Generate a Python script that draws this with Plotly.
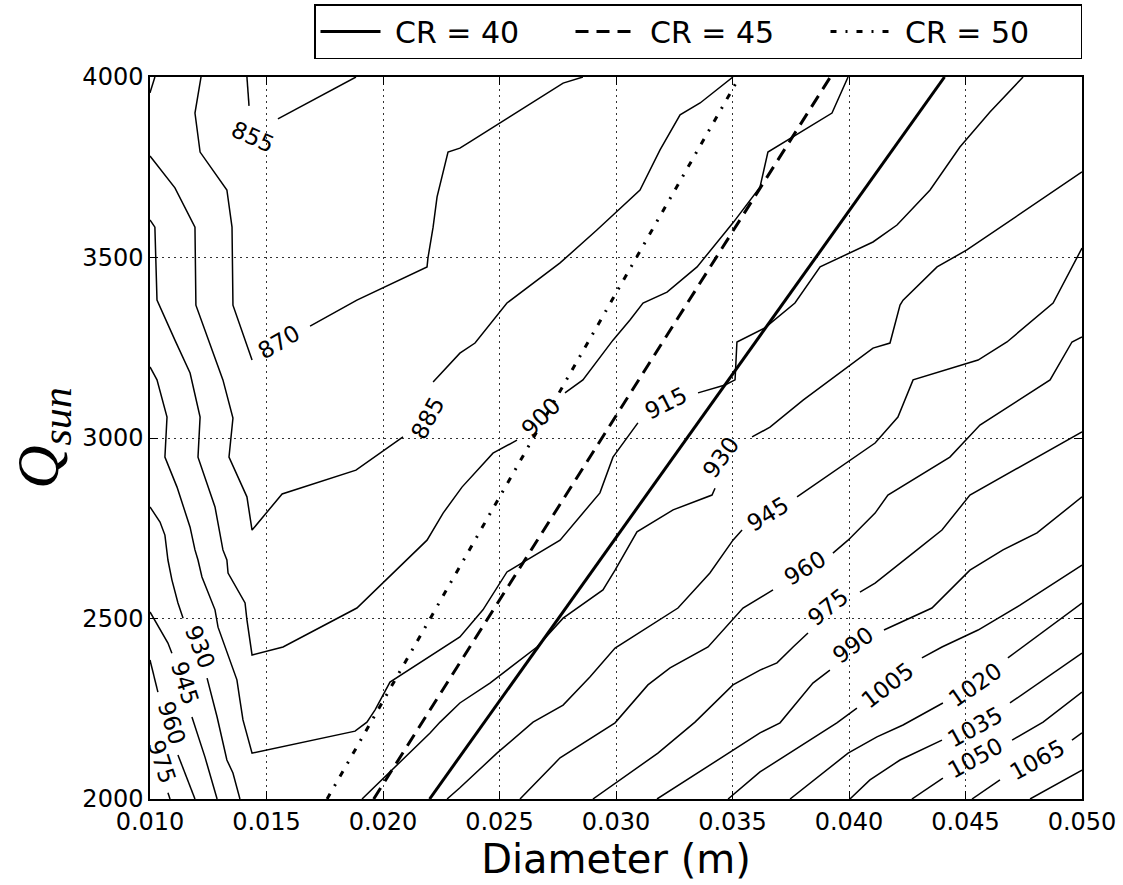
import math
import plotly.graph_objects as go

# ---------------- axes ----------------
X_RANGE = [0.010, 0.050]
Y_RANGE = [2000, 4000]
X_TICKS = [0.010, 0.015, 0.020, 0.025, 0.030, 0.035, 0.040, 0.045, 0.050]
Y_TICKS = [2000, 2500, 3000, 3500, 4000]

# ---------------- CR lines (diameter read at Q = 2000 and Q = 4000) ----------------
CR_VALUES = [40, 45, 50]
CR_Q_ENDS = [2000, 4000]
CR_D_AT_Q_LOW = [0.0220, 0.0196, 0.0176]
CR_D_AT_Q_HIGH = [0.0441, 0.0392, 0.0353]

# ---------------- contour lines (D [m], Qsun) ----------------
# each contour = list of pieces; labelled gaps lie between consecutive pieces
C855 = [
    [(0.01416, 4000), (0.01425, 3920)],
    [(0.01549, 3884), (0.01884, 4000)],
]
C870 = [
    [(0.01219, 4000), (0.01193, 3900), (0.01215, 3792), (0.01330, 3687), (0.01352, 3584),
     (0.01356, 3368), (0.01438, 3216)],
    [(0.01687, 3310), (0.01888, 3382), (0.02189, 3474), (0.02193, 3499), (0.02215, 3584),
     (0.02232, 3668), (0.02279, 3792), (0.02330, 3803), (0.02373, 3820), (0.02773, 3983),
     (0.02858, 4000)],
]
C885 = [
    [(0.01000, 3956), (0.01021, 4000)],
    [(0.01000, 3781), (0.01107, 3693), (0.01193, 3584), (0.01197, 3368), (0.01313, 3161),
     (0.01356, 3055), (0.01339, 2947), (0.01416, 2837), (0.01438, 2745), (0.01567, 2845),
     (0.01884, 2911), (0.02086, 3003)],
    [(0.02215, 3155), (0.02330, 3235), (0.02395, 3263), (0.02472, 3327), (0.02532, 3374),
     (0.02760, 3485), (0.02918, 3576), (0.03103, 3687), (0.03189, 3798), (0.03275, 3895),
     (0.03361, 3928), (0.03502, 4000)],
]
C900 = [
    [(0.01000, 3604), (0.01021, 3584), (0.01030, 3382), (0.01043, 3363), (0.01107, 3271),
     (0.01172, 3180), (0.01215, 3058), (0.01206, 2947), (0.01279, 2809), (0.01313, 2690),
     (0.01330, 2662), (0.01335, 2626), (0.01408, 2543), (0.01416, 2496), (0.01438, 2399),
     (0.01571, 2421), (0.01888, 2529), (0.02189, 2717), (0.02258, 2792), (0.02339, 2864),
     (0.02472, 2958), (0.02575, 2994)],
    [(0.02781, 3125), (0.02858, 3161), (0.02987, 3271), (0.03060, 3327), (0.03116, 3374),
     (0.03219, 3404), (0.03348, 3474), (0.03502, 3596), (0.03618, 3695), (0.03652, 3792),
     (0.03927, 3900), (0.03996, 4000)],
]
C915 = [
    [(0.01000, 3197), (0.01030, 3161), (0.01073, 3058), (0.01064, 2947), (0.01116, 2864),
     (0.01172, 2753), (0.01193, 2690), (0.01206, 2662), (0.01223, 2615), (0.01279, 2524),
     (0.01292, 2476), (0.01356, 2357), (0.01373, 2330), (0.01386, 2274), (0.01399, 2219),
     (0.01438, 2127), (0.01880, 2188), (0.01931, 2213), (0.01966, 2247), (0.02030, 2324),
     (0.02245, 2413), (0.02330, 2449), (0.02429, 2524), (0.02532, 2629), (0.02597, 2654),
     (0.02760, 2717), (0.02931, 2848), (0.02987, 2947), (0.03094, 3042)],
    [(0.03352, 3125), (0.03468, 3147), (0.03511, 3161), (0.03519, 3266), (0.03639, 3305),
     (0.03768, 3374), (0.03876, 3474), (0.04103, 3543), (0.04206, 3590), (0.04348, 3687),
     (0.04476, 3806), (0.04605, 3903), (0.04747, 4000)],
]
C930 = [
    [(0.01000, 2809), (0.01043, 2767), (0.01064, 2731), (0.01077, 2662), (0.01094, 2607),
     (0.01120, 2543), (0.01142, 2501)],
    [(0.01245, 2335), (0.01288, 2227), (0.01330, 2108), (0.01356, 2072), (0.01386, 2000)],
    [(0.01910, 2000), (0.02202, 2183), (0.02245, 2213), (0.02330, 2266), (0.02459, 2321),
     (0.02661, 2421), (0.02773, 2501), (0.02944, 2579), (0.02996, 2634), (0.03047, 2690),
     (0.03090, 2740), (0.03245, 2801), (0.03412, 2842), (0.03425, 2861)],
    [(0.03584, 3003), (0.03661, 3030), (0.03803, 3105), (0.04103, 3249), (0.04176, 3263),
     (0.04219, 3368), (0.04232, 3382), (0.04378, 3474), (0.04506, 3521), (0.05000, 3737)],
]
C945 = [
    [(0.01000, 2518), (0.01039, 2476), (0.01077, 2432), (0.01094, 2404)],
    [(0.01180, 2227), (0.01236, 2116), (0.01288, 2000)],
    [(0.02275, 2000), (0.02330, 2031), (0.02489, 2127), (0.02644, 2213), (0.02773, 2260),
     (0.02888, 2338), (0.02996, 2418), (0.03266, 2529), (0.03403, 2626), (0.03502, 2717),
     (0.03541, 2745)],
    [(0.03777, 2837), (0.04112, 2986), (0.04210, 3058), (0.04275, 3161), (0.04554, 3216),
     (0.04678, 3266), (0.04876, 3374), (0.05000, 3526)],
]
C960 = [
    [(0.01000, 2385), (0.01021, 2330), (0.01034, 2296)],
    [(0.01120, 2122), (0.01163, 2053), (0.01193, 2000)],
    [(0.02588, 2000), (0.02760, 2114), (0.02996, 2211), (0.03137, 2316), (0.03232, 2363),
     (0.03395, 2421), (0.03545, 2529), (0.03618, 2557), (0.03674, 2579)],
    [(0.03931, 2681), (0.03996, 2717), (0.04112, 2792), (0.04167, 2842), (0.04433, 2947),
     (0.04562, 3036), (0.04863, 3161), (0.04957, 3266), (0.05000, 3280)],
]
C975 = [
    [(0.01000, 2169)],
    [(0.01077, 2017), (0.01086, 2000)],
    [(0.02901, 2000), (0.03180, 2127), (0.03339, 2213), (0.03502, 2316), (0.03618, 2357),
     (0.03691, 2377), (0.03760, 2421), (0.03824, 2460)],
    [(0.04047, 2573), (0.04112, 2598), (0.04292, 2690), (0.04399, 2745), (0.04519, 2842),
     (0.05000, 3017)],
]
C990 = [
    [(0.03176, 2000), (0.03502, 2136), (0.03618, 2183), (0.03704, 2211), (0.03845, 2321),
     (0.03918, 2357)],
    [(0.04150, 2468), (0.04356, 2529), (0.04519, 2634), (0.04571, 2654), (0.04661, 2690),
     (0.04807, 2737), (0.05000, 2837)],
]
C1005 = [
    [(0.03481, 2000), (0.03618, 2075), (0.03948, 2211), (0.04034, 2252)],
    [(0.04313, 2391), (0.04399, 2421), (0.04554, 2468), (0.04734, 2537), (0.05000, 2648)],
]
C1020 = [
    [(0.03747, 2000), (0.03996, 2127), (0.04120, 2172), (0.04232, 2205), (0.04403, 2266)],
    [(0.04682, 2391), (0.05000, 2543)],
]
C1035 = [
    [(0.04004, 2000), (0.04090, 2053), (0.04219, 2108), (0.04399, 2163)],
    [(0.04691, 2266), (0.05000, 2404)],
]
C1050 = [
    [(0.04270, 2000), (0.04403, 2058)],
    [(0.04700, 2163), (0.04833, 2213), (0.05000, 2296)],
]
C1065 = [
    [(0.04528, 2000), (0.04648, 2053)],
    [(0.04957, 2163), (0.05000, 2183)],
]
C1080 = [
    [(0.04777, 2000), (0.05000, 2080)],
]

CONTOURS = [
    (855, C855), (870, C870), (885, C885), (900, C900), (915, C915), (930, C930),
    (945, C945), (960, C960), (975, C975), (990, C990), (1005, C1005), (1020, C1020),
    (1035, C1035), (1050, C1050), (1065, C1065), (1080, C1080),
]

# inline labels: (level, index of piece before the gap, label centre D, label centre Q)
LABELS = [
    (855, 0, 0.01442, 3834), (870, 0, 0.01554, 3266), (885, 1, 0.02193, 3055),
    (900, 0, 0.02678, 3058), (915, 0, 0.03215, 3097),
    (930, 0, 0.01215, 2421), (945, 0, 0.01150, 2321), (960, 0, 0.01094, 2211),
    (975, 0, 0.01052, 2103),
    (930, 2, 0.03451, 2947), (945, 2, 0.03652, 2789), (960, 2, 0.03811, 2640),
    (975, 2, 0.03910, 2532), (990, 0, 0.04017, 2427), (1005, 0, 0.04167, 2316),
    (1020, 0, 0.04541, 2316), (1035, 0, 0.04541, 2199), (1050, 0, 0.04541, 2114),
    (1065, 0, 0.04807, 2108),
]

# ---------------- figure ----------------
W, H = 1123, 885
M = dict(l=150, r=41, t=77, b=86, autoexpand=False)
plot_w = W - M["l"] - M["r"]
plot_h = H - M["t"] - M["b"]
px_per_x = plot_w / (X_RANGE[1] - X_RANGE[0])
px_per_y = plot_h / (Y_RANGE[1] - Y_RANGE[0])

fig = go.Figure()

for level, pieces in CONTOURS:
    xs, ys = [], []
    for piece in pieces:
        for d, q in piece:
            xs.append(d)
            ys.append(q)
        xs.append(None)
        ys.append(None)
    fig.add_trace(go.Scatter(
        x=xs, y=ys, mode="lines", connectgaps=False, showlegend=False,
        line=dict(color="black", width=1.5), hoverinfo="skip", name=str(level)))

CR_STYLE = {40: "solid", 45: "13px,8px", 50: "6px,9px,2px,9px"}
for cr, d0, d1 in zip(CR_VALUES, CR_D_AT_Q_LOW, CR_D_AT_Q_HIGH):
    fig.add_trace(go.Scatter(
        x=[d0, d1], y=CR_Q_ENDS, mode="lines", name=f"\u00a0CR = {cr}",
        line=dict(color="black", width=3, dash=CR_STYLE[cr])))

contour_map = dict(CONTOURS)
for level, gi, lx, ly in LABELS:
    pieces = contour_map[level]
    (xa, ya) = pieces[gi][-1]
    (xb, yb) = pieces[gi + 1][0]
    dx = (xb - xa) * px_per_x
    dy = -(yb - ya) * px_per_y
    ang = math.degrees(math.atan2(dy, dx))
    if ang > 90:
        ang -= 180
    elif ang <= -90:
        ang += 180
    fig.add_annotation(
        x=lx, y=ly, xref="x", yref="y", text=str(level), showarrow=False,
        textangle=ang, font=dict(family="DejaVu Sans", size=23, color="black"))

fig.update_layout(
    width=W, height=H, margin=M,
    paper_bgcolor="white", plot_bgcolor="white",
    font=dict(family="DejaVu Sans", color="black"),
    legend=dict(
        orientation="h", x=1.0, xanchor="right", y=1 + 18 / plot_h, yanchor="bottom",
        bordercolor="black", borderwidth=1.5, bgcolor="white", itemwidth=60,
        font=dict(size=30, family="DejaVu Sans"), entrywidth=180, entrywidthmode="pixels"),
)

axis_common = dict(
    showline=True, linecolor="black", linewidth=1.5, mirror="ticks",
    ticks="inside", ticklen=8, tickwidth=1.2, tickcolor="black",
    showgrid=True, gridcolor="#333333", gridwidth=1, griddash="2px,4px",
    zeroline=False, tickfont=dict(size=24, family="DejaVu Sans", color="black"),
)
fig.update_xaxes(
    range=X_RANGE, tickvals=X_TICKS, ticktext=[f"{v:.3f}" for v in X_TICKS],
    title=dict(text="Diameter (m)", font=dict(size=40, family="DejaVu Sans"), standoff=6),
    **axis_common)
fig.update_yaxes(
    range=Y_RANGE, tickvals=Y_TICKS, ticktext=[str(v) for v in Y_TICKS],
    title=dict(text="<i>Q</i><sub><i>sun</i></sub>",
               font=dict(size=60, family="Liberation Serif"), standoff=4),
    **axis_common)

fig.write_html("out.html")
